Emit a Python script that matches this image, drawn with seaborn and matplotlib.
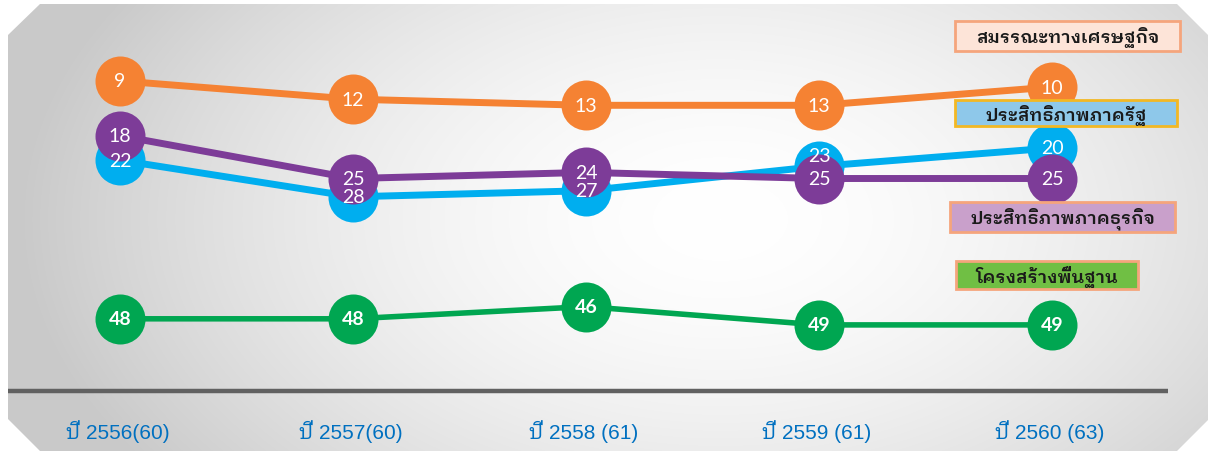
import numpy as np
import pandas as pd
import matplotlib
matplotlib.use("Agg")
import matplotlib.pyplot as plt
import seaborn as sns
from matplotlib import font_manager
from matplotlib.patches import Polygon, Rectangle
from matplotlib.transforms import blended_transform_factory

# IMD ranking data (rank, lower is better)
years = ['ปี 2556(60)', 'ปี 2557(60)', 'ปี 2558 (61)', 'ปี 2559 (61)', 'ปี 2560 (63)']
economic = [9, 12, 13, 13, 10]
government = [22, 28, 27, 23, 20]
business = [18, 25, 24, 25, 25]
infrastructure = [48, 48, 46, 49, 49]

series_names = ['สมรรณะทางเศรษฐกิจ', 'ประสิทธิภาพภาครัฐ', 'ประสิทธิภาพภาคธุรกิจ', 'โครงสร้างพื้นฐาน']
series_values = [economic, government, business, infrastructure]
colors = ['#F58233', '#00AEEF', '#7D3C98', '#00A651']

rows = []
for name, vals in zip(series_names, series_values):
    for i, v in enumerate(vals):
        rows.append({'Series': name, 'Year': i, 'Rank': v})
df = pd.DataFrame(rows)

sns.set_theme(style="white")


def thai_family():
    names = sorted({f.name for f in font_manager.fontManager.ttflist})
    thai = [n for n in names if 'Thai' in n]
    looped = [n for n in thai if 'Looped' in n and 'Serif' not in n]
    if looped:
        return looped[0]
    return thai[0] if thai else None


thai = thai_family()
fam_label = [f for f in ['Liberation Sans', thai, 'DejaVu Sans'] if f]
fam_box = [f for f in [thai, 'Noto Sans', 'DejaVu Sans'] if f]

W, H = 1215, 452
fig = plt.figure(figsize=(W / 100, H / 100), dpi=100)

# background axes in pixel coords
ax_bg = fig.add_axes([0, 0, 1, 1], zorder=0)
ax_bg.set_xlim(0, W)
ax_bg.set_ylim(H, 0)
ax_bg.axis('off')
yy, xx = np.mgrid[0:H, 0:W]
r = np.sqrt(((xx - 720) / 700.0) ** 2 + ((yy - 220) / 430.0) ** 2)
g = 1 - 0.21 * np.clip(r, 0, 1) ** 1.7
img = np.dstack([g, g, g])
im = ax_bg.imshow(img, extent=(0, W, H, 0), aspect='auto', interpolation='bilinear')
shape = Polygon([(40, 5), (1177, 5), (1208, 36), (1208, 421), (1177, 452),
                 (40, 452), (8, 420), (8, 36)], closed=True, facecolor='none',
                edgecolor='none', transform=ax_bg.transData)
ax_bg.add_patch(shape)
im.set_clip_path(shape)

# main data axes
ax = fig.add_axes([0, 0, 1, 1], zorder=1)
ax.patch.set_alpha(0)
x0, dx = 120, 233.0
y0, dy = 27.0, 6.1
ax.set_xlim((0 - x0) / dx, (W - x0) / dx)
ax.set_ylim((H - y0) / dy, (0 - y0) / dy)
ax.axis('off')

widths = [5.0, 5.0, 5.0, 4.0]
for k, (name, col) in enumerate(zip(series_names, colors)):
    d = df[df['Series'] == name]
    sns.lineplot(data=d, x='Year', y='Rank', color=col, linewidth=widths[k],
                 ax=ax, zorder=2 + k, legend=False)
    sns.scatterplot(data=d, x='Year', y='Rank', color=col, s=1296,
                    linewidth=0, ax=ax, zorder=2 + k, legend=False)

# value labels
label_shift = {(1, 3): -1.8}
for k, vals in enumerate(series_values):
    for i, v in enumerate(vals):
        yv = v + label_shift.get((k, i), 0)
        ax.text(i, yv, str(v), color='white', ha='center', va='center',
                fontsize=14, family=['Lato', 'DejaVu Sans'],
                fontweight='bold' if k == 3 else 'normal', zorder=10)

# overlay axes in pixel coords
ax_top = fig.add_axes([0, 0, 1, 1], zorder=3)
ax_top.patch.set_alpha(0)
ax_top.set_xlim(0, W)
ax_top.set_ylim(H, 0)
ax_top.axis('off')

ax_top.plot([8, 1168], [392, 392], color='#616161', linewidth=3.2, solid_capstyle='butt')

trans = blended_transform_factory(ax.transData, ax_top.transData)
for i, lab in enumerate(years):
    ax_top.text(i - 0.01, 432, lab, transform=trans, color='#0070C0', ha='center',
                va='center', fontsize=15, family=fam_label)

boxes = [
    (955, 22, 225, 30, '#FDE4D8', '#F5A57C'),
    (955, 101, 222, 26, '#8EC8EA', '#F2B824'),
    (950, 203, 225, 30, '#C9A0CB', '#F5A57C'),
    (956, 262, 182, 28, '#70BF44', '#F5A57C'),
]
for (bx, by, bw, bh, fc, ec), name in zip(boxes, series_names):
    ax_top.add_patch(Rectangle((bx, by), bw, bh, facecolor=fc, edgecolor=ec, linewidth=2))
    ax_top.text(bx + bw / 2, by + bh / 2 + 1, name, ha='center', va='center',
                fontsize=13, color='#1a1a1a', family=fam_box, fontweight='semibold')

fig.savefig('out.png', dpi=100, facecolor='white')
